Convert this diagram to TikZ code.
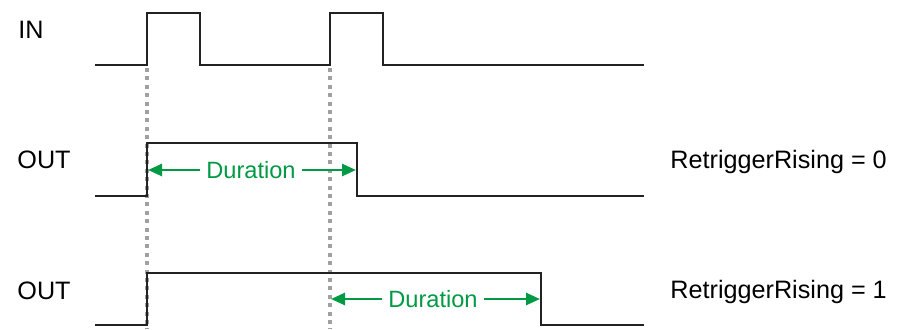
\documentclass[tikz,border=0pt]{standalone}
\usepackage{fontspec}
\setmainfont{Liberation Sans}
\usepackage{xcolor}
\usetikzlibrary{arrows.meta,positioning}
\definecolor{durgreen}{HTML}{009A44}
\definecolor{guidegray}{HTML}{A0A0A0}
\definecolor{siggray}{HTML}{222222}

\begin{document}
\begin{tikzpicture}[
  x=0.5pt,y=-0.5pt,
  sig/.style={draw=siggray,line width=1pt},
  guide/.style={draw=guidegray,line width=1.7pt,dash pattern=on 2pt off 2.2pt},
  lbl/.style={anchor=base west,inner sep=0pt,font=\fontsize{12.6}{14}\selectfont},
  durtext/.style={fill=white,inner sep=3pt,text=durgreen,font=\fontsize{11.8}{13}\selectfont},
  arr/.style={-{Triangle[length=7pt,width=6pt]},draw=durgreen,line width=1.3pt}
]
\useasboundingbox (0,0) rectangle (904,329);
% guides from the rising edges of IN
\draw[guide] (147,68) -- (147,329);
\draw[guide] (330,68) -- (330,329);
% waveforms
\draw[sig] (95,65) -- (147,65) -- (147,13) -- (200,13) -- (200,65) -- (330,65)
  -- (330,13) -- (383,13) -- (383,65) -- (644,65);
\draw[sig] (95,196) -- (147,196) -- (147,143) -- (357,143) -- (357,196) -- (644,196);
\draw[sig] (95,325) -- (147,325) -- (147,273) -- (541,273) -- (541,325) -- (644,325);
% labels
\node[lbl] (in) at (18,38) {IN};
\node[lbl] (out0) at (17,168) {OUT};
\node[lbl] (out1) at (17,299) {OUT};
\node[lbl] (rr0) at (670,168) {RetriggerRising = 0};
\node[lbl] (rr1) at (670,298) {RetriggerRising = 1};
% durations
\coordinate (d0a) at (148,170);
\coordinate (d0b) at (356,170);
\node[durtext] (dur0) at (251,170) {Duration};
\draw[arr] (dur0) -- (d0a);
\draw[arr] (dur0) -- (d0b);
\coordinate (d1a) at (331,299);
\coordinate (d1b) at (540,299);
\node[durtext] (dur1) at (433,299) {Duration};
\draw[arr] (dur1) -- (d1a);
\draw[arr] (dur1) -- (d1b);
\end{tikzpicture}
\end{document}
